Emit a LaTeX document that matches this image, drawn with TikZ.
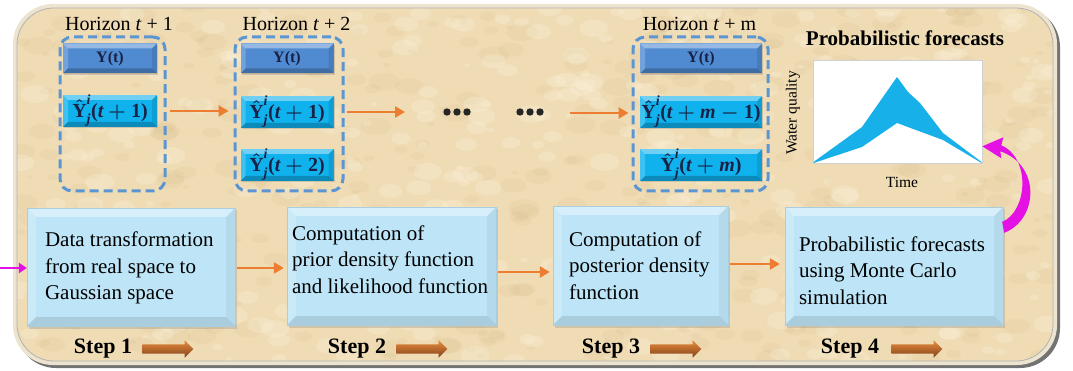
\RequirePackage{fix-cm}
\documentclass[tikz,border=0pt]{standalone}
\usepackage{amsmath}
\usepackage{fontspec}
\setmainfont{Liberation Serif}
\usetikzlibrary{shapes.arrows,shadows,arrows.meta,calc}

\definecolor{parch}{RGB}{239,220,181}
\definecolor{parchdark}{RGB}{218,190,142}
\definecolor{parchlight}{RGB}{251,241,218}
\definecolor{framecol}{RGB}{236,228,206}
\definecolor{ybox}{RGB}{80,139,210}
\definecolor{yhat}{RGB}{16,178,238}
\definecolor{stepfill}{RGB}{189,229,247}
\definecolor{dashblue}{RGB}{91,150,210}
\definecolor{flow}{RGB}{237,125,49}
\definecolor{band}{RGB}{24,176,232}
\definecolor{mag}{RGB}{228,16,228}
\definecolor{navy}{RGB}{24,34,70}
\definecolor{blocktop}{RGB}{232,140,62}
\definecolor{blockbot}{RGB}{130,66,26}

\tikzset{
  bevel/.style 2 args={path picture={
    \path (path picture bounding box.north west) coordinate (bvNW)
          (path picture bounding box.north east) coordinate (bvNE)
          (path picture bounding box.south west) coordinate (bvSW)
          (path picture bounding box.south east) coordinate (bvSE);
    \fill[white,opacity=.40] (bvNW) -- (bvNE) -- ([xshift=-#1,yshift=-#1]bvNE) -- ([xshift=#1,yshift=-#1]bvNW) -- cycle;
    \fill[white,opacity=.20] (bvNW) -- ([xshift=#1,yshift=-#1]bvNW) -- ([xshift=#1,yshift=#1]bvSW) -- (bvSW) -- cycle;
    \fill[black,opacity=#2*0.5] (bvNE) -- (bvSE) -- ([xshift=-#1,yshift=#1]bvSE) -- ([xshift=-#1,yshift=-#1]bvNE) -- cycle;
    \fill[black,opacity=#2] (bvSW) -- (bvSE) -- ([xshift=-#1,yshift=#1]bvSE) -- ([xshift=#1,yshift=#1]bvSW) -- cycle;
  }},
  stepbox/.style={fill=stepfill, draw=stepfill!90!black, line width=0.3pt, bevel={9pt}{0.10},
    drop shadow={shadow xshift=1.5pt, shadow yshift=-2.5pt, opacity=.28}, inner sep=0pt},
  steptext/.style={anchor=west, align=left, inner sep=0pt,
    font=\fontsize{21}{26.5}\selectfont},
  ybtn/.style={fill=ybox, bevel={5pt}{0.22}, inner sep=0pt, minimum height=30pt,
    drop shadow={shadow xshift=1pt, shadow yshift=-1.5pt, opacity=.3},
    font=\fontsize{16}{18}\selectfont\bfseries, text=navy},
  hbtn/.style={fill=yhat, bevel={5pt}{0.22}, inner sep=0pt, minimum height=32pt,
    drop shadow={shadow xshift=1pt, shadow yshift=-1.5pt, opacity=.3},
    font=\fontsize{20}{22}\selectfont, text=navy},
  horizon/.style={draw=dashblue, line width=3pt, dash pattern=on 9pt off 5pt,
    rounded corners=12pt, inner sep=0pt},
  hlabel/.style={anchor=base, inner sep=0pt, font=\fontsize{20}{24}\selectfont},
  flowarrow/.style={draw=flow, line width=2.6pt, -{Triangle[length=10pt,width=11pt]}},
  steplabel/.style={inner sep=0pt, font=\fontsize{22}{26}\selectfont\bfseries},
  blockarrow/.style={shape=single arrow, inner xsep=0pt, inner ysep=0pt, minimum height=51pt,
    single arrow head extend=4pt, single arrow head indent=0pt,
    top color=blocktop, bottom color=blockbot, anchor=west},
  dot/.style={fill=black!85},
}
% bold italic / bold upright pieces of the forecast symbols
\newcommand{\vbi}[1]{\text{\bfseries\itshape #1}}
\newcommand{\vbu}[1]{\text{\bfseries #1}}
\newcommand{\yhatof}[1]{{\boldmath$\hat{\vbu{Y}}_{\vbi{j}}^{\vbi{i}}\vbu{(}#1\vbu{)}$}}

\begin{document}
\begin{tikzpicture}[x=1pt,y=-1pt]
\useasboundingbox (0,0) rectangle (1073,371);

% parchment panel with frame and shadow
\fill[black!55, rounded corners=40pt] (16,7) rectangle (1060,368);
\fill[framecol, rounded corners=40pt] (13,4) rectangle (1057,365);
\fill[parch, rounded corners=37pt] (17,8) rectangle (1053,361);
\begin{scope}
  \clip[rounded corners=37pt] (17,8) rectangle (1053,361);
  \pgfmathsetseed{4242}
  \foreach \k in {1,...,420}{
    \pgfmathsetmacro{\bx}{17+1036*rnd}
    \pgfmathsetmacro{\by}{8+353*rnd}
    \pgfmathsetmacro{\br}{3+13*rnd}
    \fill[parchdark, opacity=.18] (\bx,\by) ellipse [x radius=\br, y radius=0.55*\br];
  }
  \foreach \k in {1,...,380}{
    \pgfmathsetmacro{\bx}{17+1036*rnd}
    \pgfmathsetmacro{\by}{8+353*rnd}
    \pgfmathsetmacro{\br}{3+12*rnd}
    \fill[parchlight, opacity=.30] (\bx,\by) ellipse [x radius=\br, y radius=0.6*\br];
  }
\end{scope}
\draw[black!30, line width=0.8pt, rounded corners=37pt] (17,8) rectangle (1053,361);

% forecast horizons
\node[hlabel] (lab1) at (119,31) {Horizon \textit{t} + 1};
\node[hlabel] (lab2) at (296.5,31) {Horizon \textit{t} + 2};
\node[hlabel] (lab3) at (699.5,31) {Horizon \textit{t} + m};

\node[horizon, minimum width=105pt, minimum height=154pt] (h1) at (112.5,114) {};
\node[horizon, minimum width=108pt, minimum height=154pt] (h2) at (289,114) {};
\node[horizon, minimum width=135pt, minimum height=154pt] (h3) at (700.5,114) {};

\node[ybtn, minimum width=94pt] (y1) at (110,58.5) {Y(t)};
\node[hbtn, minimum width=94pt] (q11) at (110,111) {\yhatof{\vbi{t}+\vbu{1}}};

\node[ybtn, minimum width=93pt] (y2) at (287,58.5) {Y(t)};
\node[hbtn, minimum width=93pt] (q21) at (287,112) {\yhatof{\vbi{t}+\vbu{1}}};
\node[hbtn, minimum width=93pt] (q22) at (287,165) {\yhatof{\vbi{t}+\vbu{2}}};

\node[ybtn, minimum width=122pt] (y3) at (701,58.5) {Y(t)};
\node[hbtn, minimum width=122pt] (q31) at (701,112) {\yhatof{\vbi{t}+\vbi{m}-\vbu{1}}};
\node[hbtn, minimum width=122pt] (q32) at (701,165) {\yhatof{\vbi{t}+\vbi{m}}};

% ellipses between horizons
\coordinate (dotsA) at (457,112);
\coordinate (dotsB) at (530,112);
\foreach \dx in {-10,0,10}{
  \fill[dot] ($(dotsA)+(\dx,0)$) circle (3.7pt);
  \fill[dot] ($(dotsB)+(\dx,0)$) circle (3.7pt);
}
\coordinate (dotsIn) at (405,112);
\coordinate (dotsOut) at (570,113);

\draw[flowarrow, shorten <=3pt, shorten >=5pt] (h1.east |- q11.center) -- (h2.west |- q11.center);
\draw[flowarrow, shorten <=2pt] (h2.east |- dotsIn) -- (dotsIn);
\draw[flowarrow, shorten >=3pt] (dotsOut) -- (h3.west |- dotsOut);

% probabilistic forecast chart
\node[font=\fontsize{21}{24}\selectfont\bfseries, anchor=base, inner sep=0pt] (ptitle) at (905,46) {Probabilistic forecasts};
\node[draw=black!18, fill=white, line width=0.6pt, minimum width=169pt, minimum height=103pt, inner sep=0pt] (chart) at (897.5,111.5) {};
\fill[band] (813.5,162) -- (862,127) -- (897,77) -- (908,92) -- (920,103) -- (943,133) -- (981.5,162)
  -- (981.5,163) -- (943,140) -- (897,123) -- (862,147) -- (813.5,163) -- cycle;
\node[rotate=90, inner sep=0pt, font=\fontsize{15.5}{18}\selectfont] (yaxis) at (793,113) {Water quality};
\node[inner sep=0pt, font=\fontsize{15.5}{18}\selectfont] (xaxis) at (902,182) {Time};

% processing steps
\node[stepbox, minimum width=208pt, minimum height=118pt] (s1) at (131,267) {};
\node[stepbox, minimum width=209pt, minimum height=118pt] (s2) at (391.5,266) {};
\node[stepbox, minimum width=175pt, minimum height=119pt] (s3) at (640.5,265.5) {};
\node[stepbox, minimum width=218pt, minimum height=118pt] (s4) at (894,266) {};

\node[steptext] (t1) at ([xshift=18pt,yshift=-1pt]s1.west) {Data transformation\\from real space to\\Gaussian space};
\node[steptext] (t2) at ([xshift=5pt,yshift=6.5pt]s2.west) {Computation of\\prior density function\\and likelihood function};
\node[steptext] (t3) at ([xshift=16pt,yshift=0pt]s3.west) {Computation of\\posterior density\\function};
\node[steptext] (t4) at ([xshift=14pt,yshift=-4.5pt]s4.west) {Probabilistic forecasts\\using Monte Carlo\\simulation};

\coordinate (a12) at ([yshift=-1pt]s1.east);
\coordinate (a23) at ([yshift=-6pt]s2.east);
\coordinate (a34) at ([yshift=1.5pt]s3.east);
\draw[flowarrow, line width=2.2pt, shorten <=2pt, shorten >=3pt] (a12) -- (a12 -| s2.west);
\draw[flowarrow, line width=2.2pt, shorten <=2pt, shorten >=3pt] (a23) -- (a23 -| s3.west);
\draw[flowarrow, line width=2.2pt, shorten <=2pt, shorten >=5pt] (a34) -- (a34 -| s4.west);

% incoming data arrow
\coordinate (inL) at (0,268);
\draw[mag, line width=2pt, -{Triangle[length=8pt,width=10pt]}] (inL) -- (inL -| s1.west);

% feedback arrow from step 4 to the chart
\coordinate (magS) at ([yshift=-21pt]s4.north east);
\coordinate (magE) at ([yshift=17pt]chart.south east);
\fill[mag] ($(magS)+(1,5)$) .. controls ($(magS)+(35,-8)$) and ($(magE)+(59,19)$) .. ($(magE)+(18,5)$)
  -- ($(magE)+(19,12)$) -- (magE) -- ($(magE)+(21,-9)$) -- ($(magE)+(19,-1)$)
  .. controls ($(magE)+(49,12)$) and ($(magS)+(24,-16)$) .. ($(magS)+(-1,-6)$) -- cycle;

% step labels
\node[steplabel] (l1) at (103,349) {Step 1};
\node[steplabel] (l2) at (357,349) {Step 2};
\node[steplabel] (l3) at (611,349) {Step 3};
\node[steplabel] (l4) at (850,349) {Step 4};
\node[blockarrow] (b1) at ([xshift=10pt]l1.east) {\rule{0pt}{9pt}};
\node[blockarrow] (b2) at ([xshift=10pt]l2.east) {\rule{0pt}{9pt}};
\node[blockarrow] (b3) at ([xshift=10pt]l3.east) {\rule{0pt}{9pt}};
\node[blockarrow] (b4) at ([xshift=12pt]l4.east) {\rule{0pt}{9pt}};
\end{tikzpicture}
\end{document}
